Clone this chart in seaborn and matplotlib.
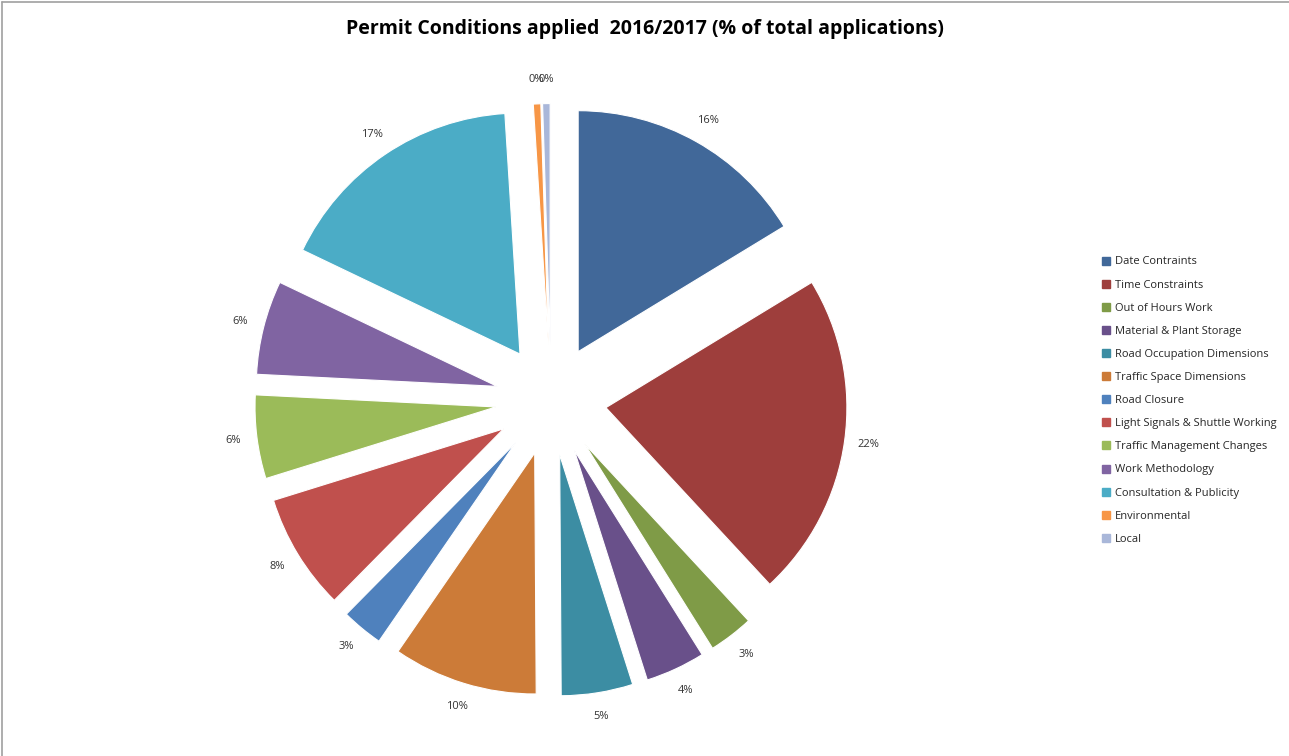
import numpy as np
import seaborn as sns
import matplotlib.pyplot as plt
from matplotlib.lines import Line2D

categories = ["Date Contraints", "Time Constraints", "Out of Hours Work",
              "Material & Plant Storage", "Road Occupation Dimensions",
              "Traffic Space Dimensions", "Road Closure",
              "Light Signals & Shuttle Working", "Traffic Management Changes",
              "Work Methodology", "Consultation & Publicity", "Environmental", "Local"]
values = [16.3, 21.8, 3.0, 4.0, 4.8, 9.7, 2.8, 7.8, 5.6, 6.3, 16.9, 0.5, 0.5]
colors = ["#416899", "#9e3e3c", "#7f9b47", "#69508a", "#3c8da3", "#cc7b38",
          "#4f81bd", "#c0504d", "#9bbb59", "#8064a2", "#4bacc6", "#f79646", "#a9b7d9"]

sns.set_theme(style="white")
plt.rcParams['font.family'] = ['Open Sans', 'DejaVu Sans']

W, H = 1289, 756
fig = plt.figure(figsize=(W / 100, H / 100), dpi=100)
ax = fig.add_axes([0, 0, 1, 1])

# pie radius in pixels and centre position
R = 241.0
cx, cy = 551, 400
wedges, texts = ax.pie(values, colors=colors, startangle=90, counterclock=False,
                       explode=[0.23] * len(values), radius=1,
                       wedgeprops=dict(edgecolor="white", linewidth=0.8))
total = sum(values)
for w, v in zip(wedges, values):
    mid = np.deg2rad((w.theta1 + w.theta2) / 2)
    ex, ey = w.center
    ax.text(ex + 1.10 * np.cos(mid), ey + 1.10 * np.sin(mid), f"{v / total * 100:.0f}%",
            ha="center", va="center", fontsize=8, color="#333333")

ax.set_xlim(-cx / R, (W - cx) / R)
ax.set_ylim(-(H - cy) / R, cy / R)
ax.set_aspect("auto")
ax.axis("off")

fig.text(645 / W, 1 - 29 / H, "Permit Conditions applied  2016/2017 (% of total applications)",
         ha="center", va="center", fontsize=14, fontweight="bold", color="black")

handles = [Line2D([0], [0], marker="s", linestyle="", markersize=6, markerfacecolor=c,
                  markeredgecolor=c) for c in colors]
fig.legend(handles, categories, loc="upper left", bbox_to_anchor=(1098 / W, 1 - 252 / H),
           frameon=False, fontsize=8, handlelength=0.6, handletextpad=0.5,
           labelspacing=1.09, borderaxespad=0)

fig.add_artist(Line2D([0.0012, 1], [1 - 1.5 / H, 1 - 1.5 / H], transform=fig.transFigure,
                      color="#a0a0a0", linewidth=1.2))
fig.add_artist(Line2D([1.5 / W, 1.5 / W], [0, 1 - 1.5 / H], transform=fig.transFigure,
                      color="#a0a0a0", linewidth=1.2))

fig.savefig("out.png", dpi=100, facecolor="white")
